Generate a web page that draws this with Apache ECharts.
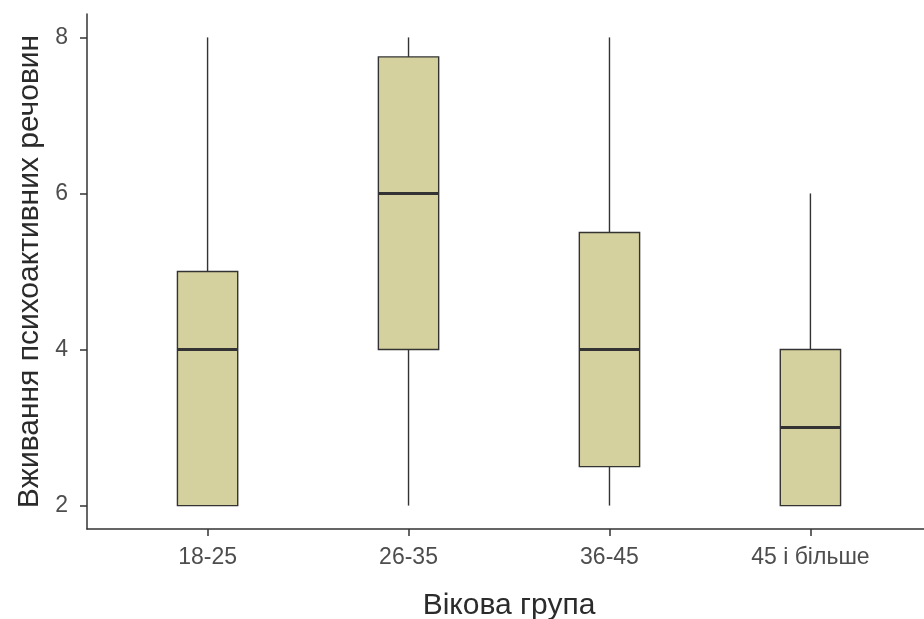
<!DOCTYPE html>
<html>
<head>
<meta charset="utf-8">
<script src="https://cdn.jsdelivr.net/npm/echarts@6/dist/echarts.min.js"></script>
<style>html,body{margin:0;padding:0;background:#fff;}#c{width:924px;height:619px;}</style>
</head>
<body>
<div id="c"></div>
<script>
const categories = ['18-25', '26-35', '36-45', '45 і більше'];
const whiskerLow = [2, 2, 2, 2];
const q1 = [2, 4, 2.5, 2];
const median = [4, 6, 4, 3];
const q3 = [5, 7.75, 5.5, 4];
const whiskerHigh = [8, 8, 8, 6];
const yTicks = [2, 4, 6, 8];

const data = categories.map((c, i) => [i + 1, whiskerLow[i], q1[i], median[i], q3[i], whiskerHigh[i]]);

const chart = echarts.init(document.getElementById('c'), null, {renderer: 'canvas'});
const font = 'Liberation Sans, Arial, sans-serif';
chart.setOption({
  animation: false,
  backgroundColor: '#ffffff',
  grid: {left: 87, top: 14, width: 844, bottom: 90, containLabel: false, outerBoundsMode: 'none'},
  xAxis: {
    type: 'value', min: 0.4, max: 4.6,
    name: 'Вікова група', nameLocation: 'middle', nameGap: 62,
    nameTextStyle: {fontFamily: font, fontSize: 30, color: '#2b2b2b'},
    axisLine: {show: true, lineStyle: {color: '#333', width: 1.5}},
    axisTick: {show: true, customValues: categories.map((c, i) => i + 1), length: 7, lineStyle: {color: '#333', width: 1.5}},
    axisLabel: {customValues: categories.map((c, i) => i + 1), formatter: v => categories[Math.round(v) - 1] || '', fontFamily: font, fontSize: 23, color: '#4d4d4d', margin: 17},
    splitLine: {show: false}
  },
  yAxis: {
    type: 'value', min: 1.7, max: 8.3,
    name: 'Вживання психоактивних речовин', nameLocation: 'middle', nameGap: 38,
    nameTextStyle: {fontFamily: font, fontSize: 30, color: '#2b2b2b'},
    axisLine: {show: true, lineStyle: {color: '#333', width: 1.5}},
    axisTick: {show: true, customValues: yTicks, length: 7, lineStyle: {color: '#333', width: 1.5}},
    axisLabel: {customValues: yTicks, fontFamily: font, fontSize: 23, color: '#4d4d4d', margin: 19},
    splitLine: {show: false}
  },
  series: [{
    type: 'custom',
    data: data,
    encode: {x: 0, y: [1, 2, 3, 4, 5]},
    renderItem: function (params, api) {
      const x = api.value(0);
      const pLo = api.coord([x, api.value(1)]);
      const pQ1 = api.coord([x, api.value(2)]);
      const pMed = api.coord([x, api.value(3)]);
      const pQ3 = api.coord([x, api.value(4)]);
      const pHi = api.coord([x, api.value(5)]);
      const hw = api.size([0.3, 0])[0] / 2;
      const stroke = '#333333';
      return {
        type: 'group',
        children: [
          {type: 'line', shape: {x1: pQ3[0], y1: pQ3[1], x2: pHi[0], y2: pHi[1]}, style: {stroke: stroke, lineWidth: 1.4}},
          {type: 'line', shape: {x1: pLo[0], y1: pLo[1], x2: pQ1[0], y2: pQ1[1]}, style: {stroke: stroke, lineWidth: 1.4}},
          {type: 'rect', shape: {x: pQ3[0] - hw, y: pQ3[1], width: 2 * hw, height: pQ1[1] - pQ3[1]}, style: {fill: '#d5d19e', stroke: stroke, lineWidth: 1.4}},
          {type: 'line', shape: {x1: pMed[0] - hw, y1: pMed[1], x2: pMed[0] + hw, y2: pMed[1]}, style: {stroke: stroke, lineWidth: 3}}
        ]
      };
    }
  }]
});
</script>
</body>
</html>
